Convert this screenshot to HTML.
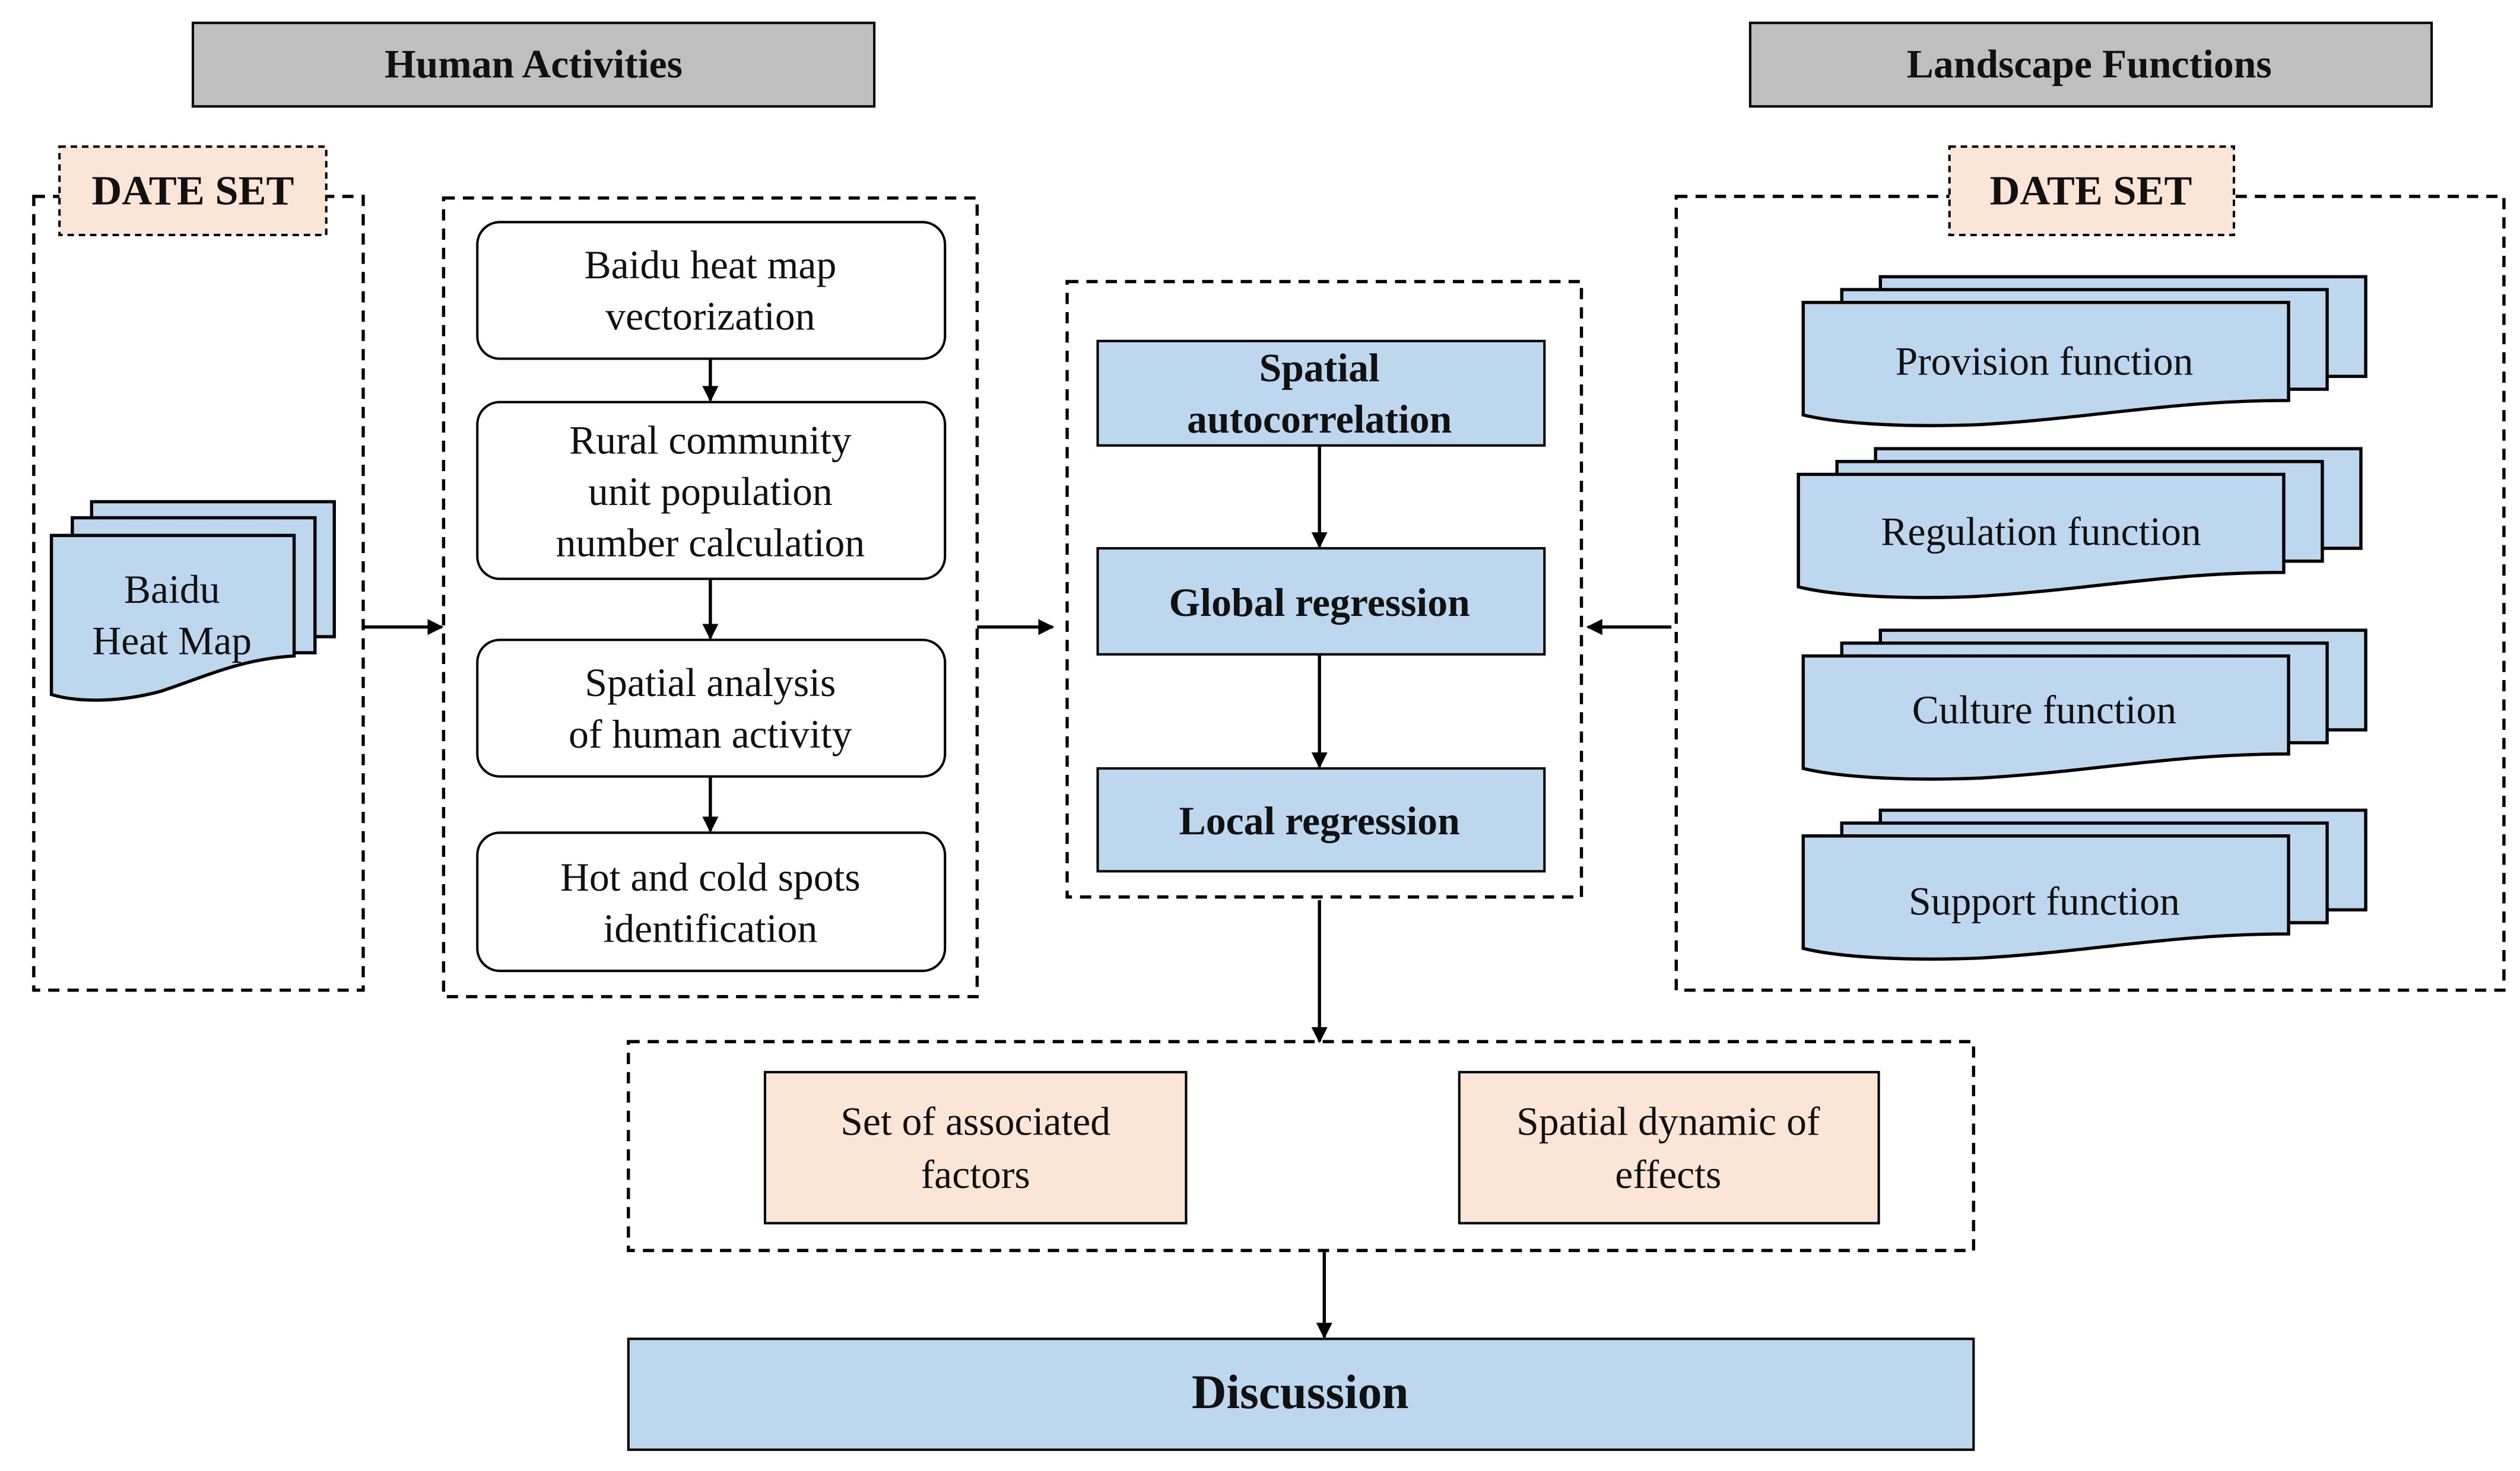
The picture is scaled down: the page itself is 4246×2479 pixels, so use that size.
<!DOCTYPE html>
<html><head><meta charset="utf-8"><style>
html,body{margin:0;padding:0;background:#fff;}
svg{display:block;}
text{font-family:"Liberation Serif",serif;fill:#111;}
</style></head><body>
<svg width="4246" height="2479" viewBox="0 0 1568 915" xmlns="http://www.w3.org/2000/svg">
<defs>
<marker id="ah" markerWidth="10" markerHeight="10" refX="9" refY="5" orient="auto" markerUnits="userSpaceOnUse">
<path d="M0,0 L10,5 L0,10 z" fill="#000"/></marker>
<g id="doc">
<rect x="48" y="-16" width="302" height="62" fill="#bdd7ee" stroke="#000" stroke-width="2"/>
<rect x="24" y="-8" width="302" height="62" fill="#bdd7ee" stroke="#000" stroke-width="2"/>
<path d="M0,0 H302 V61 C230,61 180,72 110,76 C60,78 20,75 0,70 Z" fill="#bdd7ee" stroke="#000" stroke-width="2"/>
</g>
</defs>
<g stroke="#000" stroke-width="1.5" fill="none">
<rect x="120" y="14" width="424" height="52" fill="#bfbfbf"/>
<rect x="1089" y="14" width="424" height="52" fill="#bfbfbf"/>
</g>
<text x="332" y="48" font-size="25" font-weight="bold" text-anchor="middle">Human Activities</text>
<text x="1300" y="48" font-size="25" font-weight="bold" text-anchor="middle">Landscape Functions</text>
<g stroke="#000" stroke-width="2" fill="none" stroke-dasharray="7,5">
<rect x="21" y="122" width="205" height="494"/>
<rect x="276" y="123" width="332" height="497"/>
<rect x="664" y="175" width="320" height="383"/>
<rect x="1043" y="122" width="515" height="494"/>
<rect x="391" y="648" width="837" height="130"/>
</g>
<g stroke="#000" stroke-width="1.5" stroke-dasharray="4,3">
<rect x="37" y="91" width="166" height="55" fill="#fbe5d6"/>
<rect x="1213" y="91" width="177" height="55" fill="#fbe5d6"/>
</g>
<text x="120" y="127" font-size="26" font-weight="bold" text-anchor="middle">DATE SET</text>
<text x="1301" y="127" font-size="26" font-weight="bold" text-anchor="middle">DATE SET</text>
<!-- Baidu heat map doc stack -->
<g stroke="#000" stroke-width="2" fill="#bdd7ee">
<rect x="57" y="312" width="151" height="84"/>
<rect x="45" y="322" width="151" height="84"/>
<path d="M32,333 H183 V408 C150,410 130,420 100,430 C70,438 45,436 32,432 Z"/>
</g>
<text x="107" y="375" font-size="25" text-anchor="middle">Baidu</text>
<text x="107" y="407" font-size="25" text-anchor="middle">Heat Map</text>
<!-- middle rounded boxes -->
<g stroke="#000" stroke-width="1.5" fill="#fff">
<rect x="297" y="138" width="291" height="85" rx="14"/>
<rect x="297" y="250" width="291" height="110" rx="14"/>
<rect x="297" y="398" width="291" height="85" rx="14"/>
<rect x="297" y="518" width="291" height="86" rx="14"/>
</g>
<g font-size="25" text-anchor="middle">
<text x="442" y="173">Baidu heat map</text>
<text x="442" y="205">vectorization</text>
<text x="442" y="282">Rural community</text>
<text x="442" y="314">unit population</text>
<text x="442" y="346">number calculation</text>
<text x="442" y="433">Spatial analysis</text>
<text x="442" y="465">of human activity</text>
<text x="442" y="554">Hot and cold spots</text>
<text x="442" y="586">identification</text>
</g>
<g stroke="#000" stroke-width="2" marker-end="url(#ah)">
<line x1="442" y1="223" x2="442" y2="249"/>
<line x1="442" y1="360" x2="442" y2="397"/>
<line x1="442" y1="483" x2="442" y2="517"/>
<line x1="226" y1="390" x2="275" y2="390"/>
<line x1="608" y1="390" x2="655" y2="390"/>
<line x1="1040" y1="390" x2="988" y2="390"/>
<line x1="821" y1="277" x2="821" y2="340"/>
<line x1="821" y1="407" x2="821" y2="477"/>
<line x1="821" y1="560" x2="821" y2="648"/>
<line x1="824" y1="778" x2="824" y2="832"/>
</g>
<!-- center blue boxes -->
<g stroke="#000" stroke-width="1.5" fill="#bdd7ee">
<rect x="683" y="212" width="278" height="65"/>
<rect x="683" y="341" width="278" height="66"/>
<rect x="683" y="478" width="278" height="64"/>
<rect x="391" y="833" width="837" height="69"/>
</g>
<g font-size="25" font-weight="bold" text-anchor="middle">
<text x="821" y="237">Spatial</text>
<text x="821" y="269">autocorrelation</text>
<text x="821" y="383">Global regression</text>
<text x="821" y="519">Local regression</text>
<text x="809" y="876" font-size="30">Discussion</text>
</g>
<!-- right doc stacks -->
<use href="#doc" x="1122" y="188"/>
<use href="#doc" x="1119" y="295"/>
<use href="#doc" x="1122" y="408"/>
<use href="#doc" x="1122" y="520"/>
<g font-size="25" text-anchor="middle">
<text x="1272" y="233">Provision function</text>
<text x="1270" y="339">Regulation function</text>
<text x="1272" y="450">Culture function</text>
<text x="1272" y="569">Support function</text>
</g>
<!-- bottom peach boxes -->
<g stroke="#000" stroke-width="1.5" fill="#fbe5d6">
<rect x="476" y="667" width="262" height="94"/>
<rect x="908" y="667" width="261" height="94"/>
</g>
<g font-size="25" text-anchor="middle">
<text x="607" y="706">Set of associated</text>
<text x="607" y="739">factors</text>
<text x="1038" y="706">Spatial dynamic of</text>
<text x="1038" y="739">effects</text>
</g>
</svg>
</body></html>
